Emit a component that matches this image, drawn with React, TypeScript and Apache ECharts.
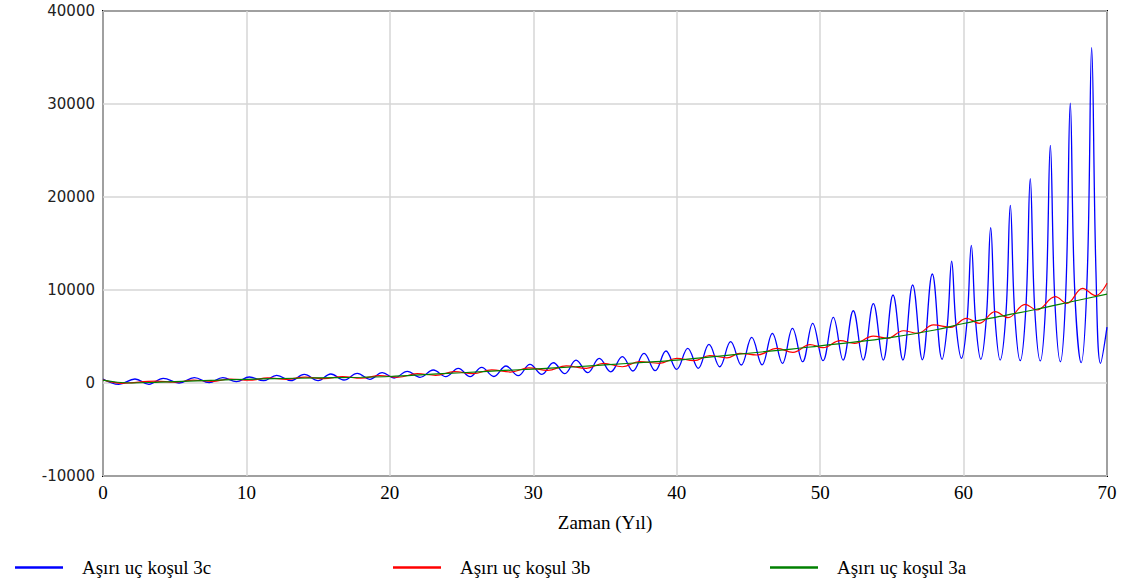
import React, { useEffect, useRef } from "react";
import * as echarts from "echarts";

const seriesNames = ["Aşırı uç koşul 3c", "Aşırı uç koşul 3b", "Aşırı uç koşul 3a"];
const xAxisTitle = "Zaman (Yıl)";

const blueX = [0, 1.1, 2.23, 3.2, 4.2, 5.3, 6.37, 7.4, 8.35, 9.3, 10.2, 11.2, 12.11, 13.1, 14.03, 15.0, 15.88, 16.8, 17.73, 18.6, 19.47, 20.3, 21.22, 22.1, 23.03, 23.9, 24.77, 25.6, 26.4, 27.25, 28.1, 28.95, 29.77, 30.6, 31.4, 32.2, 32.98, 33.8, 34.6, 35.4, 36.21, 36.95, 37.72, 38.5, 39.25, 40.0, 40.77, 41.5, 42.25, 43.0, 43.76, 44.5, 45.23, 45.95, 46.67, 47.37, 48.07, 48.78, 49.48, 50.2, 50.92, 51.6, 52.31, 53.0, 53.71, 54.4, 55.08, 55.77, 56.45, 57.13, 57.82, 58.5, 58.87, 59.17, 59.47, 59.85, 60.24, 60.54, 60.84, 61.2, 61.59, 61.89, 62.19, 62.55, 62.96, 63.26, 63.56, 63.95, 64.35, 64.65, 64.95, 65.35, 65.75, 66.05, 66.35, 66.75, 67.14, 67.44, 67.74, 68.2, 68.63, 68.93, 69.23, 69.55, 70];
const blueY = [430, -150, 430, -140, 500, 0, 570, 40, 570, 140, 645, 250, 820, 250, 935, 250, 970, 320, 1040, 400, 1110, 540, 1260, 610, 1400, 680, 1580, 680, 1690, 700, 1830, 785, 2010, 935, 2180, 1000, 2470, 1110, 2650, 1200, 2830, 1290, 3190, 1320, 3440, 1470, 3730, 1580, 4160, 1750, 4440, 1935, 4900, 1950, 5340, 2120, 5880, 2290, 6420, 2400, 7065, 2470, 7770, 2470, 8530, 2470, 9460, 2470, 10540, 2500, 11720, 2550, 6270, 13090, 6270, 2650, 6630, 14800, 6630, 2550, 7040, 16700, 7040, 2470, 7600, 19100, 7600, 2400, 8260, 21970, 8260, 2370, 9300, 25560, 9300, 2290, 10310, 30080, 10310, 2190, 11980, 36050, 11980, 2120, 6000];

const redX = [0, 1.3, 3.7, 5.0, 6.3, 7.6, 8.9, 10.2, 11.5, 12.8, 14.1, 15.4, 16.7, 18.0, 19.3, 20.6, 21.9, 23.2, 24.5, 25.8, 27.1, 28.4, 29.7, 31.0, 32.3, 33.7, 34.9, 36.2, 37.4, 38.8, 40.0, 41.2, 42.3, 43.5, 44.4, 45.6, 47.0, 48.1, 49.3, 50.2, 51.4, 52.4, 53.7, 54.7, 55.8, 56.8, 57.9, 59.1, 60.2, 61.1, 62.2, 63.1, 64.3, 65.1, 66.4, 67.2, 68.3, 69.2, 70];
const redY = [330, -30, 200, 80, 300, 180, 430, 300, 550, 390, 640, 460, 700, 510, 800, 620, 1000, 830, 1220, 1000, 1420, 1180, 1620, 1350, 1850, 1580, 2120, 1750, 2290, 2120, 2650, 2400, 2940, 2700, 3190, 3010, 3730, 3300, 4130, 3800, 4550, 4270, 5050, 4800, 5620, 5340, 6240, 5990, 6950, 6420, 7670, 7020, 8460, 7850, 9280, 8570, 10180, 9390, 10720];

const greenX = [0, 1, 2, 4, 6, 8, 10, 12, 15, 18, 20, 23, 25, 28, 30, 33, 35, 38, 40, 43, 45, 48, 50, 53, 55, 58, 60, 63, 65, 68, 70];
const greenY = [300, 80, 0, 100, 200, 300, 400, 470, 550, 620, 700, 950, 1100, 1350, 1500, 1750, 1950, 2250, 2470, 2900, 3200, 3650, 4000, 4500, 4900, 5700, 6400, 7300, 7900, 8900, 9550];

const colors = ["#0000ff", "#ff0000", "#008000"];

const pairs = (xs: number[], ys: number[]) => xs.map((x, i) => [x, ys[i]]);

export default function App() {
  const ref = useRef<HTMLDivElement>(null);
  useEffect(() => {
    const chart = echarts.init(ref.current as HTMLDivElement, null, { renderer: "svg" });
    const serif = "'Liberation Serif', 'Times New Roman', serif";
    const legendBase = (name: string, left: number) => ({
      data: [name],
      left,
      top: 553,
      icon: "rect",
      itemWidth: 48,
      itemHeight: 2.5,
      textStyle: { fontFamily: serif, fontSize: 19, color: "#000", padding: [0, 0, 0, 14] },
    });
    chart.setOption({
      animation: false,
      backgroundColor: "#fff",
      grid: { left: 103, right: 15, top: 11, bottom: 104, show: true, borderColor: "#000", borderWidth: 2, backgroundColor: "transparent" },
      legend: [legendBase(seriesNames[0], 10), legendBase(seriesNames[1], 388), legendBase(seriesNames[2], 765)],
      xAxis: {
        type: "value",
        min: 0,
        max: 70,
        interval: 10,
        name: xAxisTitle,
        nameLocation: "middle",
        nameGap: 37,
        nameTextStyle: { fontFamily: serif, fontSize: 19, color: "#000" },
        axisLine: { show: false },
        axisTick: { show: false },
        axisLabel: { fontFamily: serif, fontSize: 19, color: "#000", margin: 7 },
        splitLine: { show: true, lineStyle: { color: "#d6d6d6", width: 1.5 } },
      },
      yAxis: {
        type: "value",
        min: -10000,
        max: 40000,
        interval: 10000,
        axisLine: { show: false },
        axisTick: { show: false },
        axisLabel: { fontFamily: "'DejaVu Sans', Verdana, sans-serif", fontSize: 15, color: "#222", margin: 8, formatter: (v: number) => String(v) },
        splitLine: { show: true, lineStyle: { color: "#d6d6d6", width: 1.5 } },
      },
      series: [
        { name: seriesNames[0], type: "line", data: pairs(blueX, blueY), showSymbol: false, smooth: 0.4, lineStyle: { color: colors[0], width: 1.3 }, itemStyle: { color: colors[0] } },
        { name: seriesNames[1], type: "line", data: pairs(redX, redY), showSymbol: false, smooth: 0.4, lineStyle: { color: colors[1], width: 1.2 }, itemStyle: { color: colors[1] } },
        { name: seriesNames[2], type: "line", data: pairs(greenX, greenY), showSymbol: false, smooth: 0.4, lineStyle: { color: colors[2], width: 1.2 }, itemStyle: { color: colors[2] } },
      ],
    });
    return () => chart.dispose();
  }, []);
  return <div ref={ref} style={{ position: "absolute", left: 0, top: 0, width: 1122, height: 580, background: "#fff" }} />;
}
